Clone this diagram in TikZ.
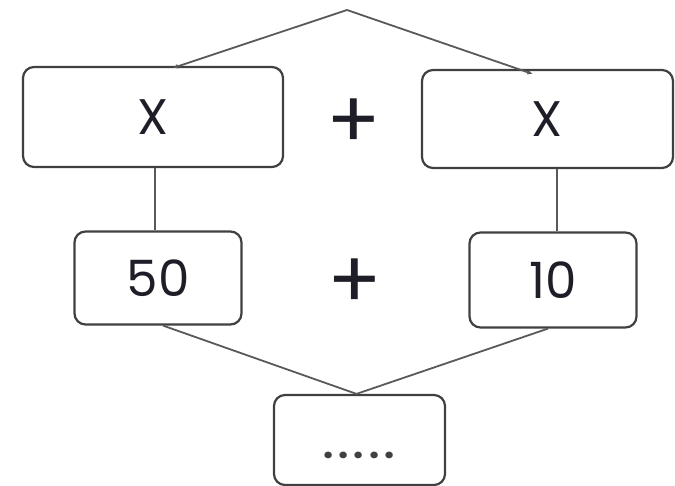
\documentclass[tikz,border=0pt]{standalone}
\usepackage{fontspec}
\setmainfont{Poppins}
\usetikzlibrary{arrows.meta}
\definecolor{ink}{HTML}{1E1E28}
\begin{document}
\begin{tikzpicture}[x=1pt,y=-1pt,
  box/.style={draw=black!75,line width=2.2pt,rounded corners=11pt,fill=white,inner sep=0pt},
  conn/.style={draw=black!65,line width=1.8pt},
  big/.style={font=\fontsize{50}{60}\selectfont,text=ink},
  plus/.style={font=\fontsize{80}{90}\selectfont,text=ink,inner sep=0pt}]
\useasboundingbox (0,0) rectangle (675,486);
\node[box,minimum width=260pt,minimum height=100pt,big] (lx) at (153,117) {X};
\node[box,minimum width=251pt,minimum height=98pt,big] (rx) at (547.5,119) {X};
\node[box,minimum width=167pt,minimum height=93pt,big] (fifty) at (158,278) {50};
\node[box,minimum width=167pt,minimum height=95pt,big] (ten) at (553,280) {10};
\node[box,minimum width=171pt,minimum height=90pt] (res) at (359.5,440) {};
\node[font=\fontsize{36}{40}\selectfont\bfseries,text=black!75] (dots) at (359,455) {.\hspace{5pt}.\hspace{5pt}.\hspace{5pt}.\hspace{5pt}.};
\node[plus] (p1) at (353.5,124) {+};
\node[plus] (p2) at (354.5,284) {+};
\coordinate (apex) at (347,10);
\draw[conn,-{Latex[length=5pt,width=5pt]}] (apex) -- ([xshift=20pt,yshift=-2pt]lx.north);
\draw[conn,-{Latex[length=5pt,width=5pt]}] (apex) -- ([xshift=-15pt,yshift=-5pt]rx.north);
\draw[conn] (lx.south -| fifty.north) ++(-3,0) -- ([xshift=-3pt]fifty.north);
\draw[conn] ([xshift=4pt]rx.south -| ten.north) -- ([xshift=4pt]ten.north);
\draw[conn] ([xshift=5pt]fifty.south) -- ([xshift=-3pt]res.north);
\draw[conn] ([xshift=-5pt]ten.south) -- ([xshift=-3pt]res.north);
\end{tikzpicture}
\end{document}
